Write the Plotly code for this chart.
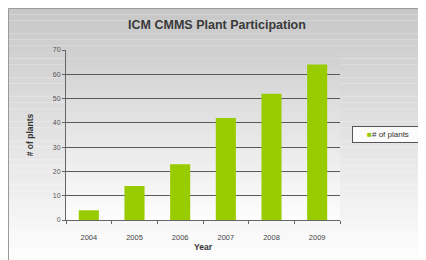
import plotly.graph_objects as go

years = ["2004", "2005", "2006", "2007", "2008", "2009"]
plants = [4, 14, 23, 42, 52, 64]
y_ticks = [0, 10, 20, 30, 40, 50, 60, 70]
series_name = "# of plants"
bar_color = "#99cc00"

# page body adds an 8px offset, so the figure fills the rest of the window
W, H = 418, 252
ML, MR, MT, MB = 58, 86, 42, 40
pw = W - ML - MR
ph = H - MT - MB

def px_x(x):
    return (x - ML) / pw

def px_y(y):
    return (H - MB - y) / ph

def lerp(c1, c2, t):
    return "rgb(%d,%d,%d)" % tuple(round(a + (b - a) * t) for a, b in zip(c1, c2))

shapes = []
n = 40
for i in range(n):
    ya = H * i / n
    yb = H * (i + 1) / n
    shapes.append(dict(type="rect", xref="paper", yref="paper",
                       x0=px_x(0), x1=px_x(W), y0=px_y(yb), y1=px_y(ya),
                       fillcolor=lerp((200, 200, 200), (253, 253, 253), i / (n - 1)),
                       line=dict(width=0), layer="below"))
shapes.append(dict(type="rect", xref="paper", yref="paper",
                   x0=px_x(0.5), x1=px_x(W + 5), y0=px_y(H + 5), y1=px_y(0.5),
                   line=dict(color="#9a9a9a", width=1), layer="below"))
for i in range(n):
    shapes.append(dict(type="rect", xref="paper", yref="paper",
                       x0=0, x1=1, y0=1 - (i + 1) / n, y1=1 - i / n,
                       fillcolor=lerp((208, 208, 208), (253, 253, 253), i / (n - 1)),
                       line=dict(width=0), layer="below"))

fig = go.Figure()
fig.add_trace(go.Bar(x=years, y=plants, name=series_name, showlegend=False,
                     marker=dict(color=bar_color, line=dict(width=0))))

fig.add_annotation(
    xref="paper", yref="paper", x=px_x(344), y=px_y(126),
    xanchor="left", yanchor="middle", showarrow=False,
    text="<span style='color:%s'>■</span>%s" % (bar_color, series_name),
    font=dict(size=8, color="#333333"),
    bgcolor="rgba(255,255,255,0.85)", bordercolor="#555555", borderwidth=1,
    borderpad=3, width=64, align="center",
)

fig.update_layout(
    width=W, height=H,
    margin=dict(l=ML, r=MR, t=MT, b=MB, autoexpand=False),
    paper_bgcolor="white",
    plot_bgcolor="rgba(0,0,0,0)",
    font=dict(family="Liberation Sans, Arial, sans-serif", color="#444444", size=8),
    title=dict(text="<b>ICM CMMS Plant Participation</b>", x=0.5, xref="container",
               xanchor="center", yref="container", y=1 - 17 / H, yanchor="middle",
               font=dict(size=12.5, color="#3a3a3a"), automargin=False),
    bargap=0.56,
    showlegend=False,
    shapes=shapes,
    xaxis=dict(showgrid=False, showline=True, linecolor="#666666", linewidth=1,
               ticks="outside", ticklen=3, tickcolor="#666666",
               tickson="boundaries", automargin=False, ticklabelstandoff=10,
               title=dict(text="<b>Year</b>", font=dict(size=8.5, color="#333333"), standoff=3),
               tickfont=dict(size=7.5, color="#444444")),
    yaxis=dict(range=[0, 70], tickvals=y_ticks, showgrid=True,
               gridcolor="#5a5a5a", gridwidth=1.3, showline=True,
               linecolor="#666666", linewidth=1, ticks="outside", ticklen=3,
               tickcolor="#666666", zeroline=False, automargin=False,
               title=dict(text="<b># of plants</b>", font=dict(size=8.5, color="#333333"), standoff=17),
               tickfont=dict(size=7, color="#555555")),
)
fig.write_html("out.html")
